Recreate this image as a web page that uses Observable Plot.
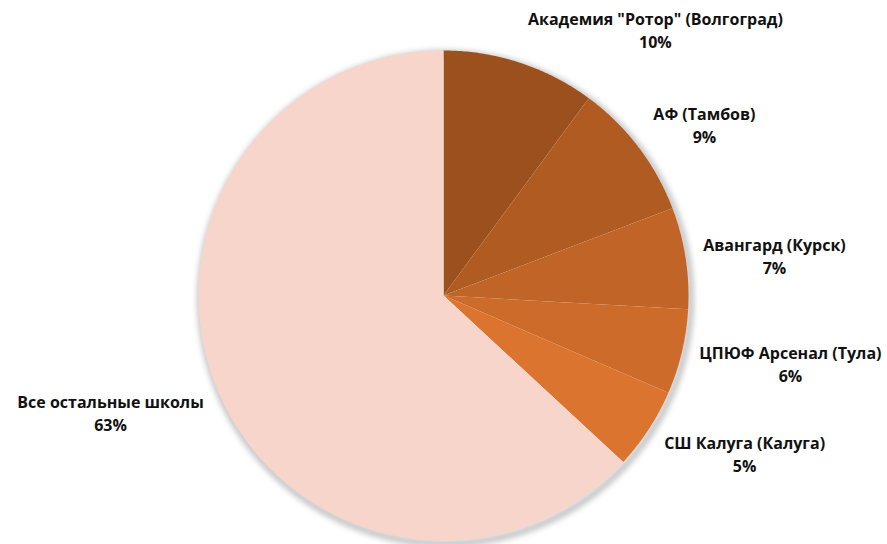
<!DOCTYPE html>
<html>
<head>
<meta charset="utf-8">
<script src="https://cdn.jsdelivr.net/npm/d3@7"></script>
<script src="https://cdn.jsdelivr.net/npm/@observablehq/plot@0.6"></script>
<style>
  html, body { margin: 0; padding: 0; background: #fff; }
  #chart svg { display: block; }
</style>
</head>
<body>
<div id="chart"></div>
<script>
// Data
const categories = [
  'Академия "Ротор" (Волгоград)',
  "АФ (Тамбов)",
  "Авангард (Курск)",
  "ЦПЮФ Арсенал (Тула)",
  "СШ Калуга (Калуга)",
  "Все остальные школы"
];
const shares = [10.1, 9.1, 6.7, 5.6, 5.4, 63.1];
const percentLabels = ["10%", "9%", "7%", "6%", "5%", "63%"];

// Styling / layout
const palette = ["#9C501D", "#AF5B21", "#C06427", "#CD6B2B", "#DA742F", "#F7D5CB"];
// label anchor positions in pie-radius units (x right, y up) relative to the centre
const labelPos = [
  [0.865, 1.086],
  [1.065, 0.700],
  [1.351, 0.165],
  [1.416, -0.276],
  [1.229, -0.643],
  [-1.359, -0.476]
];

const W = 887, H = 544, cx = 443, cy = 295, R = 245;

const arcs = d3.pie().sort(null).value(d => d.value)(
  categories.map((name, i) => ({name, value: shares[i], i}))
);

const slicePts = [];
for (const a of arcs) {
  const n = Math.max(2, Math.ceil((a.endAngle - a.startAngle) / (Math.PI / 360)));
  slicePts.push({name: a.data.name, x: 0, y: 0});
  for (let k = 0; k <= n; k++) {
    const t = a.startAngle + (a.endAngle - a.startAngle) * k / n;
    slicePts.push({name: a.data.name, x: Math.sin(t), y: Math.cos(t)});
  }
  slicePts.push({name: a.data.name, x: 0, y: 0});
}

const ring = d3.range(0, 721).map(k => {
  const t = k / 720 * 2 * Math.PI;
  return {x: Math.sin(t), y: Math.cos(t)};
});

const labels = categories.map((name, i) => ({
  x: labelPos[i][0], y: labelPos[i][1], text: name + "\n" + percentLabels[i]
}));

const chart = Plot.plot({
  width: W,
  height: H,
  margin: 0,
  x: {domain: [-1, 1], range: [cx - R, cx + R], axis: null},
  y: {domain: [-1, 1], range: [cy + R, cy - R], axis: null},
  color: {domain: categories, range: palette},
  style: {fontFamily: "'Open Sans', sans-serif"},
  marks: [
    Plot.line(ring, {x: "x", y: "y", stroke: "#8a8a8a", strokeWidth: 5, strokeOpacity: 0.7, dx: 2, dy: 3, imageFilter: "blur(3px)"}),
    Plot.line(slicePts, {x: "x", y: "y", z: "name", fill: "name", stroke: "none", curve: "linear"}),
    Plot.text(labels, {x: "x", y: "y", text: "text", fontSize: 16, fontWeight: "bold", fill: "#111", lineHeight: 1.44, textAnchor: "middle"})
  ]
});

document.getElementById("chart").appendChild(chart);
</script>
</body>
</html>
